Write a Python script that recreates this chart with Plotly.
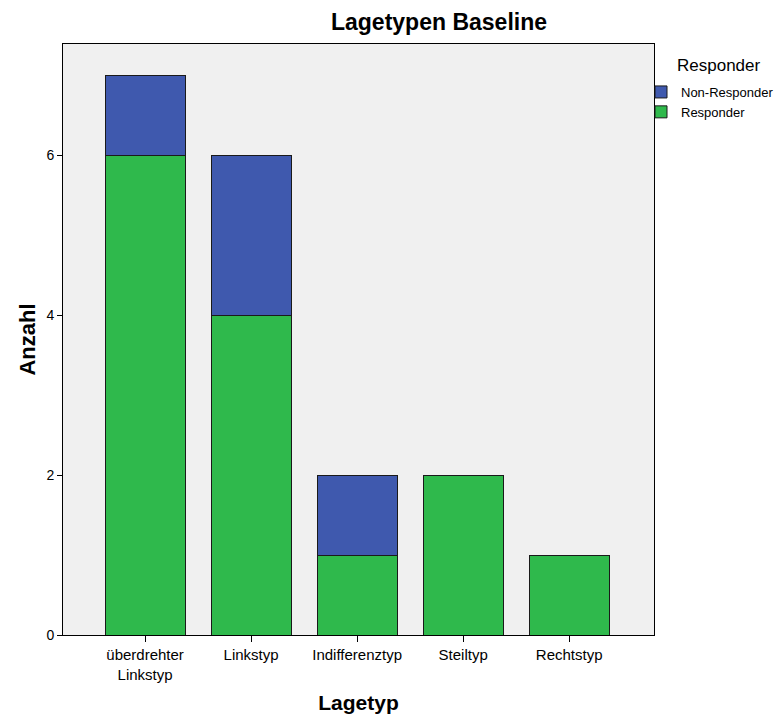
import plotly.graph_objects as go

categories = ["überdrehter<br>Linkstyp", "Linkstyp", "Indifferenztyp", "Steiltyp", "Rechtstyp"]
responder = [6, 4, 1, 2, 1]
non_responder = [1, 2, 1, 0, 0]
y_ticks = [0, 2, 4, 6]

font = "Liberation Sans, Arial, sans-serif"

# the page body adds an 8px offset; size the figure to fill the rest
W, H = 776, 712
OFF = 8

fig = go.Figure()
fig.add_trace(go.Bar(x=categories, y=responder, name="Responder",
                     marker=dict(color="#2fb94c", line=dict(color="#1a1a1a", width=1))))
fig.add_trace(go.Bar(x=categories, y=non_responder, name="Non-Responder",
                     marker=dict(color="#3f59ae", line=dict(color="#1a1a1a", width=1))))

fig.update_layout(
    barmode="stack",
    bargap=0.245,
    width=W, height=H,
    margin=dict(l=63 - OFF, r=W - (654 - OFF), t=44 - OFF, b=H - (635 - OFF), autoexpand=False),
    paper_bgcolor="white",
    plot_bgcolor="#f0f0f0",
    font=dict(family=font, color="black", size=14),
    title=dict(text="<b>Lagetypen Baseline</b>", x=(439 - OFF) / W, xref="container", xanchor="center",
               y=1 - (22 - OFF) / H, yref="container", yanchor="middle",
               font=dict(size=23, family=font)),
    legend=dict(traceorder="reversed", xref="container", yref="container",
                x=(641 - OFF) / W, xanchor="left", y=1 - (93 - 16 - OFF) / H, yanchor="top",
                font=dict(size=13), bgcolor="rgba(0,0,0,0)",
                tracegroupgap=0),
    showlegend=True,
    annotations=[dict(text="Responder", xref="paper", yref="paper",
                      x=(675 - 63) / 591, y=(635 - 65) / 591, xanchor="left", yanchor="middle",
                      showarrow=False, font=dict(size=17, family=font))],
)
fig.update_xaxes(
    title=dict(text="<b>Lagetyp</b>", font=dict(size=21), standoff=13),
    range=[-0.774, 4.80],
    automargin=False,
    showline=True, linecolor="black", linewidth=1, mirror=True,
    ticks="outside", ticklen=6, tickcolor="black", tickwidth=1,
    tickfont=dict(size=15),
    showgrid=False,
)
fig.update_yaxes(
    title=dict(text="<b>Anzahl</b>", font=dict(size=22), standoff=4),
    range=[0, 7.39],
    automargin=False,
    tickvals=y_ticks,
    showline=True, linecolor="black", linewidth=1, mirror=True,
    ticks="outside", ticklen=5, tickcolor="black",
    tickfont=dict(size=14),
    showgrid=False, zeroline=False,
)

fig.write_html("out.html")
